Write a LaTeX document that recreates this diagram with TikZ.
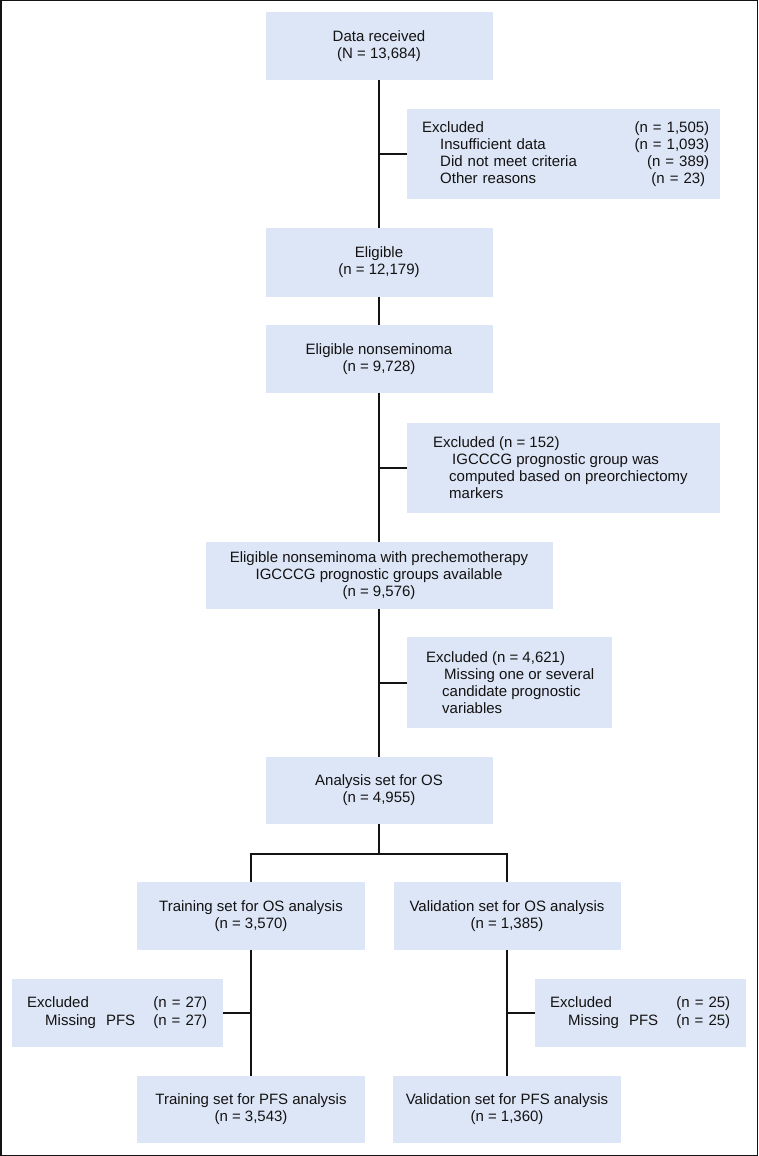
\documentclass[tikz,border=0pt]{standalone}
\usepackage{fontspec}
\setmainfont{Liberation Sans}
\definecolor{boxblue}{RGB}{220,230,246}
\definecolor{txt}{RGB}{20,18,18}
\newcommand\boxfont{\fontsize{15}{16.8}\selectfont}
\newcommand\ind{\hspace*{18pt}}
\begin{document}
\begin{tikzpicture}[x=1pt,y=-1pt,
  box/.style={fill=boxblue, inner sep=0pt, font=\boxfont, text=txt, align=center},
  etext/.style={inner sep=0pt, font=\boxfont, text=txt, align=left, anchor=west},
  conn/.style={line width=2pt, draw=txt}]
\useasboundingbox (0,0) rectangle (758,1156);
\draw[line width=1.5pt, draw=txt] (0.75,0.75) rectangle (757.25,1155.25);

% main column
\node[box, minimum width=227, minimum height=68] (recv) at (379,46) {Data received\\(N = 13,684)};
\node[box, minimum width=313, minimum height=90] (exc1) at (563.5,154) {};
\node[etext, text width=287] (exc1t) at (422,154) {Excluded\hfill(n = 1,505)\\\ind Insufficient data\hfill(n = 1,093)\\\ind Did not meet criteria\hfill(n = 389)\hspace*{3pt}\\\ind Other reasons\hfill(n = 23)\hspace*{4pt}};
\node[box, minimum width=227, minimum height=69] (elig) at (379,262.5) {Eligible\\(n = 12,179)};
\node[box, minimum width=227, minimum height=68] (nonsem) at (379,359) {Eligible nonseminoma\\(n = 9,728)};
\node[box, minimum width=313, minimum height=90] (exc2) at (563.5,468) {};
\node[etext] (exc2t) at (433,467.5) {Excluded (n = 152)\\\hspace*{19pt}IGCCCG prognostic group was\\\hspace*{16pt}computed based on preorchiectomy\\\hspace*{16pt}markers};
\node[box, minimum width=347, minimum height=67] (prechemo) at (379,575.5) {Eligible nonseminoma with prechemotherapy\\IGCCCG prognostic groups available\\(n = 9,576)};
\node[box, minimum width=205, minimum height=91] (exc3) at (509.5,682.5) {};
\node[etext] (exc3t) at (426,682.5) {Excluded (n = 4,621)\\\hspace*{18pt}Missing one or several\\\hspace*{16pt}candidate prognostic\\\hspace*{16pt}variables};
\node[box, minimum width=227, minimum height=67] (analysis) at (379,790.5) {Analysis set for OS\\(n = 4,955)};

% branches
\node[box, minimum width=228, minimum height=68] (trainOS) at (251,916) {Training set for OS analysis\\(n = 3,570)};
\node[box, minimum width=227, minimum height=68] (valOS) at (507,916) {Validation set for OS analysis\\(n = 1,385)};
\node[box, minimum width=211, minimum height=68] (excL) at (117.5,1013) {};
\node[etext, text width=180, font=\fontsize{15}{18.6}\selectfont] (excLt) at (27,1012.5) {Excluded\hfill(n = 27)\\\ind Missing\ \ PFS\hfill(n = 27)};
\node[box, minimum width=211, minimum height=68] (excR) at (640.5,1013) {};
\node[etext, text width=180, font=\fontsize{15}{18.6}\selectfont] (excRt) at (550,1012.5) {Excluded\hfill(n = 25)\\\ind Missing\ \ PFS\hfill(n = 25)};
\node[box, minimum width=228, minimum height=67] (trainPFS) at (251,1109.5) {Training set for PFS analysis\\(n = 3,543)};
\node[box, minimum width=228, minimum height=67] (valPFS) at (507,1109.5) {Validation set for PFS analysis\\(n = 1,360)};

\coordinate (bar) at (379,854);

% connectors
\draw[conn] (recv) -- (elig);
\draw[conn] (elig) -- (nonsem);
\draw[conn] (nonsem) -- (prechemo);
\draw[conn] (prechemo) -- (analysis);
\draw[conn] (exc1.west) -- (exc1.west -| recv.center);
\draw[conn] (exc2.west) -- (exc2.west -| recv.center);
\draw[conn] (exc3.west) -- (exc3.west -| recv.center);
\draw[conn] (analysis) -- (bar);
\draw[conn] (trainOS.north) |- (bar) -| (valOS.north);
\draw[conn] (trainOS) -- (trainPFS);
\draw[conn] (valOS) -- (valPFS);
\draw[conn] (excL.east) -- (excL.east -| trainOS.center);
\draw[conn] (excR.west) -- (excR.west -| valOS.center);
\end{tikzpicture}
\end{document}
